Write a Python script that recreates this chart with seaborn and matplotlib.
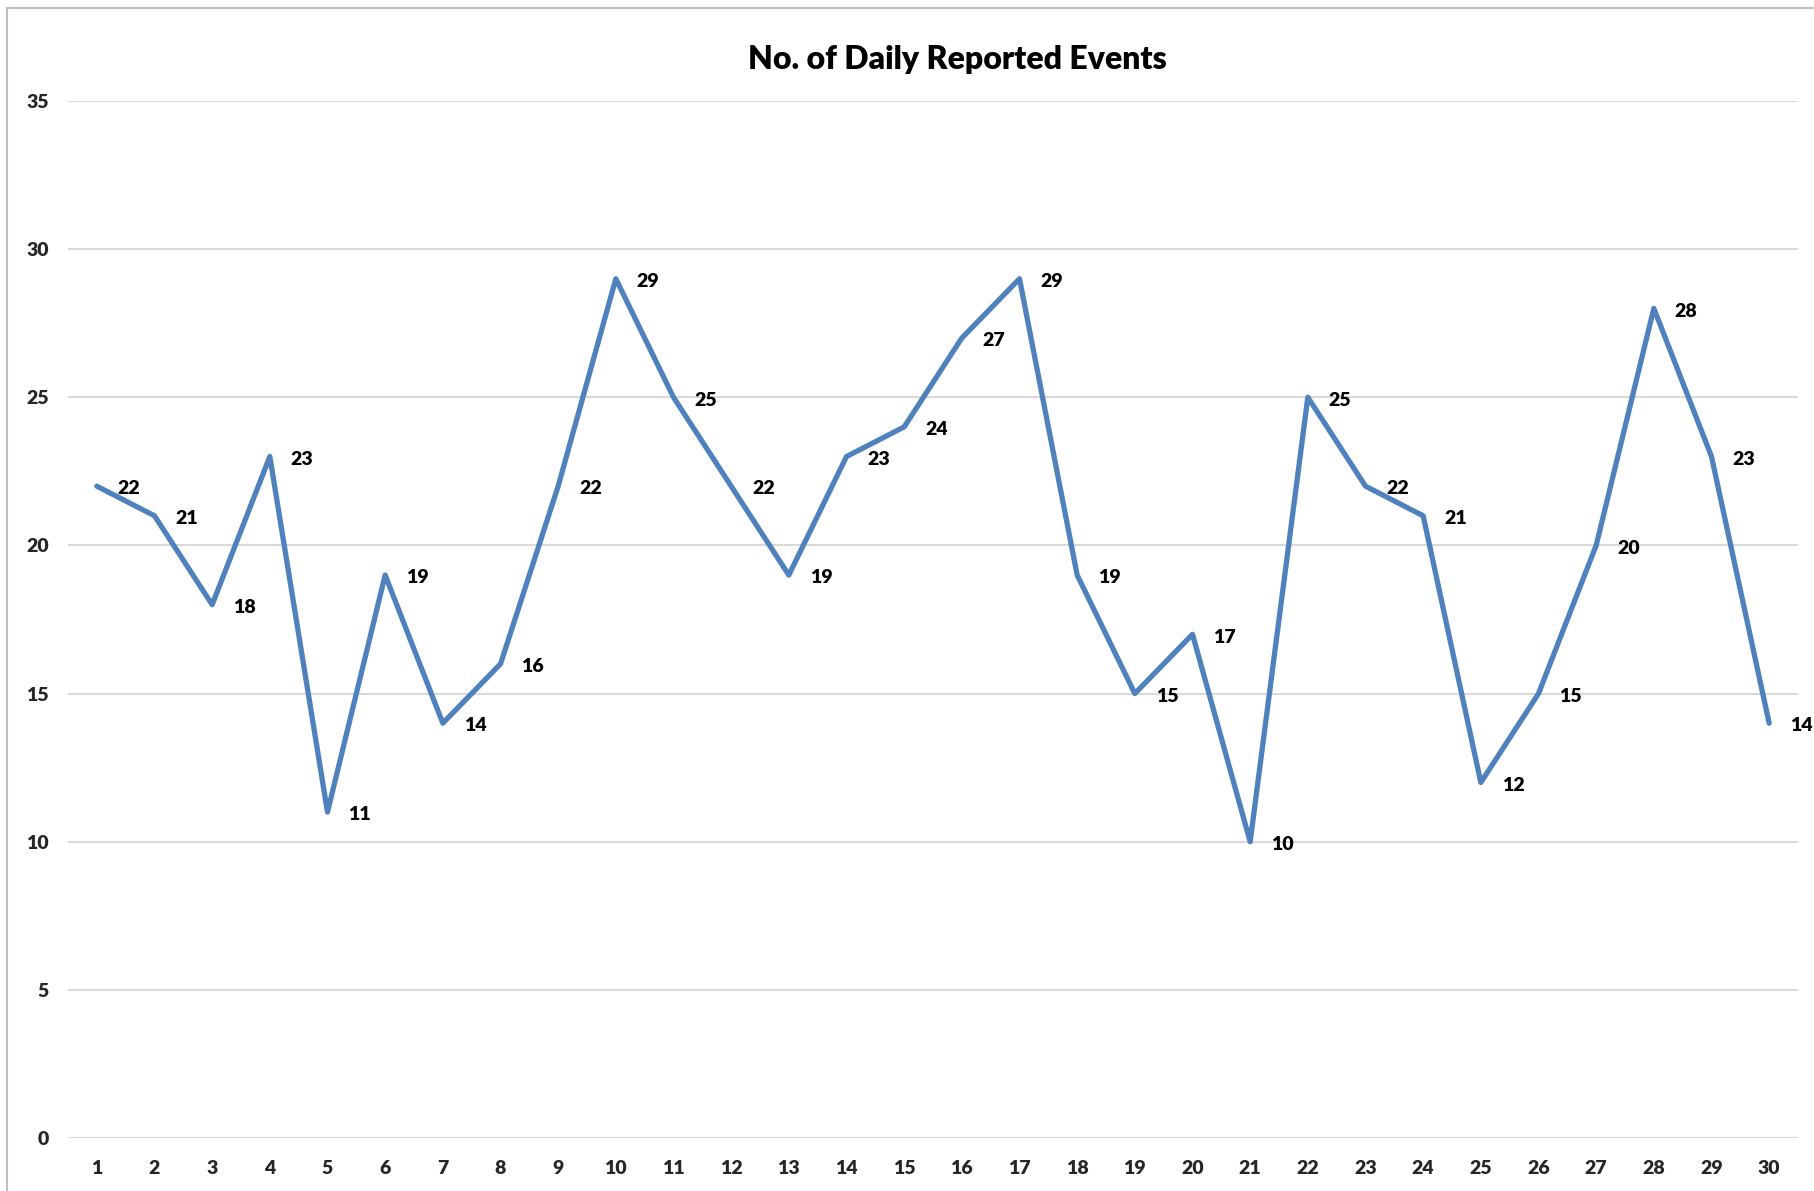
import numpy as np
import pandas as pd
import matplotlib
matplotlib.use("Agg")
import matplotlib.pyplot as plt
import seaborn as sns
from matplotlib.patches import Rectangle

# --- Data ---
days = list(range(1, 31))
events = [22, 21, 18, 23, 11, 19, 14, 16, 22, 29,
          25, 22, 19, 23, 24, 27, 29, 19, 15, 17,
          10, 25, 22, 21, 12, 15, 20, 28, 23, 14]
y_ticks = [0, 5, 10, 15, 20, 25, 30, 35]
title = "No. of Daily Reported Events"

df = pd.DataFrame({"day": days, "events": events})

sns.set_theme(style="white")
plt.rcParams["font.family"] = ["Lato", "DejaVu Sans"]

fig = plt.figure(figsize=(18.14, 11.91), dpi=100)
ax = fig.add_axes([68 / 1814, 1 - 1138 / 1191, (1798 - 68) / 1814, (1138 - 101) / 1191])

# chart frame (only left/top edges visible in the crop)
fig.patches.append(Rectangle((7 / 1814, -0.1), 1.2, 1 - 8 / 1191 + 0.1,
                             transform=fig.transFigure, fill=False,
                             edgecolor="#BFBFBF", linewidth=1.5, zorder=0))

sns.lineplot(data=df, x="day", y="events", ax=ax, color="#4F81BD",
             linewidth=3.8, solid_capstyle="round", solid_joinstyle="round")

# data labels to the right of each point
for d, v in zip(days, events):
    ax.annotate(str(v), (d, v), xytext=(15, -2), textcoords="offset points",
                ha="left", va="center", fontsize=14, fontweight="heavy",
                color="black", annotation_clip=False)

ax.set_xlim(0.5, 30.5)
ax.set_ylim(0, 35)
ax.set_xticks(days)
ax.set_yticks(y_ticks)
ax.set_xticklabels([str(d) for d in days], fontsize=14, fontweight="heavy")
ax.set_yticklabels([str(t) for t in y_ticks], fontsize=14, fontweight="heavy")
ax.tick_params(axis="x", length=0, pad=15.5)
ax.tick_params(axis="y", length=0, pad=14)
ax.grid(axis="y", color="#D9D9D9", linewidth=1.5)
ax.set_axisbelow(True)
for s in ax.spines.values():
    s.set_visible(False)
ax.set_xlabel("")
ax.set_ylabel("")

fig.text(957 / 1814, 1 - 60 / 1191, title, ha="center", va="center",
         fontsize=23, fontweight="heavy", color="black")

fig.savefig("out.png", dpi=100)
